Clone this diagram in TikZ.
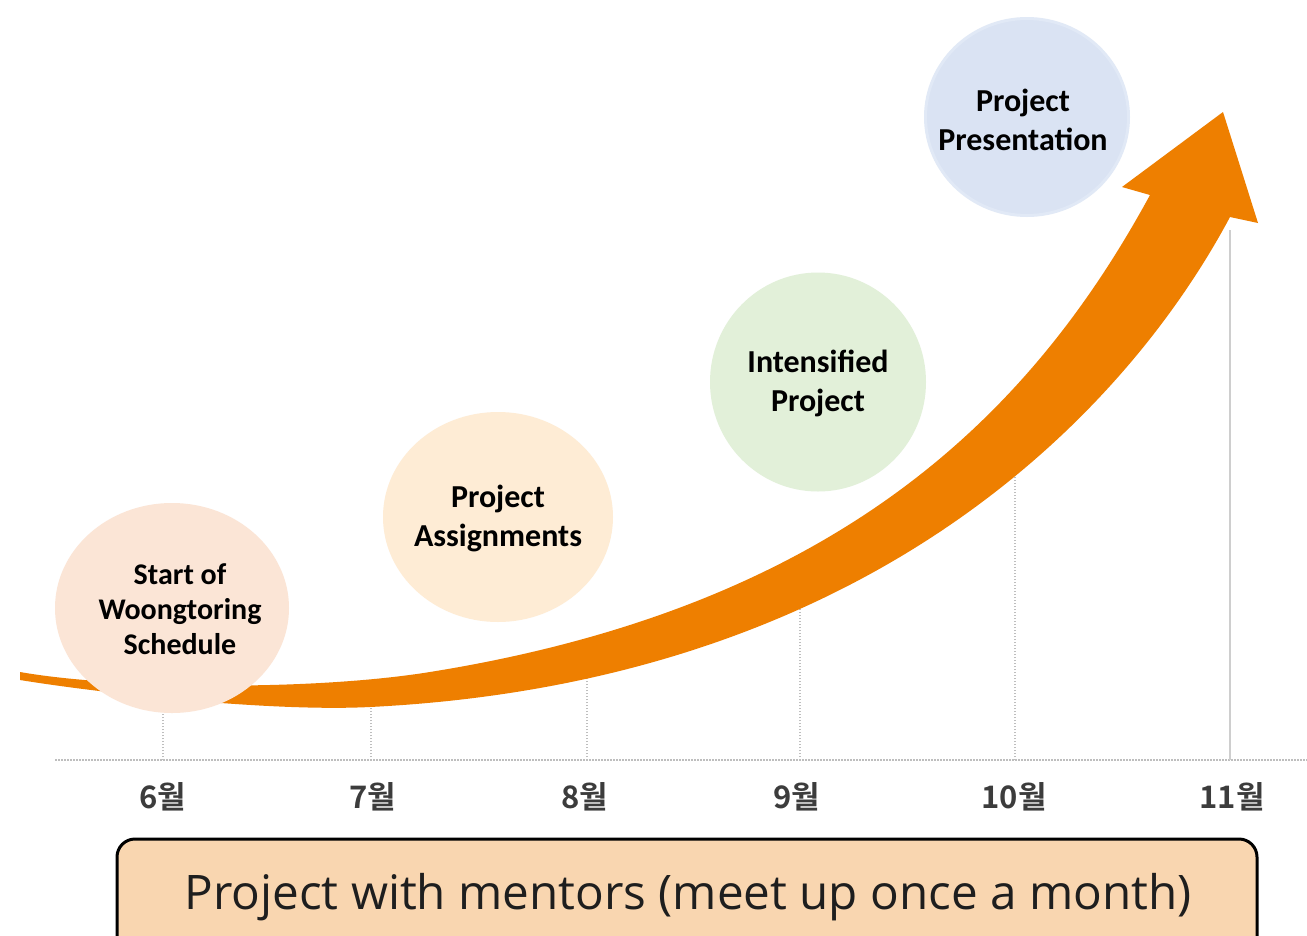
\documentclass[tikz,border=0pt]{standalone}
\usepackage{fontspec}
\setmainfont{Carlito}
\newfontfamily\krfont{Noto Sans CJK KR Bold}
\newfontfamily\boxfont{Open Sans}
\usetikzlibrary{shapes.geometric}
\definecolor{arroworange}{RGB}{238,127,0}
\definecolor{cpink}{RGB}{251,229,214}
\definecolor{cpeach}{RGB}{254,236,213}
\definecolor{cgreen}{RGB}{226,240,217}
\definecolor{cblue}{RGB}{218,227,243}
\definecolor{cblueedge}{RGB}{225,233,246}
\definecolor{monthgray}{RGB}{60,60,60}
\definecolor{axisgray}{RGB}{190,190,190}
\definecolor{boxfill}{RGB}{249,214,176}
\tikzset{
  bubble/.style={ellipse, inner sep=0pt},
  bubbletext/.style={align=center, font=\bfseries\fontsize{32}{39}\selectfont, text=black, inner sep=0pt},
  monthlabel/.style={font=\krfont\fontsize{31}{34}\selectfont, text=monthgray, inner sep=0pt},
  guide/.style={draw=axisgray, line width=1.4pt, dash pattern=on 1.5pt off 1.5pt},
}
\begin{document}
\begin{tikzpicture}[x=1pt,y=-1pt]
\clip (0,0) rectangle (1307,935);
\fill[white] (0,0) rectangle (1307,935);
% axis
\coordinate (axL) at (55,760);
\coordinate (axR) at (1307,760);
\draw[guide] (axL) -- (axR);
\foreach \x/\t in {163/700,371/700,587/670,800/600,1015/470}{
  \draw[guide] (\x,760) -- (\x,\t);
}
\draw[draw=axisgray!75, line width=1.6pt] (1230,760) -- (1230,230);
% arrow
\fill[arroworange]
  (20,672) .. controls (110,688) and (305,692) .. (430,672)
  .. controls (841,606) and (1032,412) .. (1150,195)
  -- (1122,187) -- (1223,112) -- (1258,223) -- (1230,217)
  .. controls (1127,410) and (873,682) .. (370,707)
  .. controls (270,712) and (100,693) .. (20,680)
  -- cycle;
% bubbles
\node[bubble, fill=cpink, minimum width=234pt, minimum height=210pt] (b1) at (172,608) {};
\node[bubbletext, font=\bfseries\fontsize{30}{35}\selectfont] (t1) at (180,609) {Start of\\Woongtoring\\Schedule};
\node[bubble, fill=cpeach, minimum width=230pt, minimum height=210pt] (b2) at (498,517) {};
\node[bubbletext] (t2) at (498,518) {Project\\Assignments};
\node[bubble, fill=cgreen, minimum width=216pt, minimum height=219pt] (b3) at (818,382) {};
\node[bubbletext] (t3) at (818,383) {Intensified\\Project};
\node[bubble, fill=cblue, draw=cblueedge, line width=3pt, minimum width=203pt, minimum height=197pt] (b4) at (1027,117) {};
\node[bubbletext] (t4) at (1023,120) {Project\\Presentation};
% months
\node[monthlabel] (m6) at (163,797) {6월};
\node[monthlabel] (m7) at (373,797) {7월};
\node[monthlabel] (m8) at (585,797) {8월};
\node[monthlabel] (m9) at (797,797) {9월};
\node[monthlabel] (m10) at (1014,797) {10월};
\node[monthlabel] (m11) at (1232,797) {11월};
% bottom box
\draw[fill=boxfill, draw=black, line width=3pt, rounded corners=18pt] (117,839) rectangle (1257,980);
\node[font=\boxfont\fontsize{47.6}{52}\selectfont, text={rgb,255:red,30;green,30;blue,30}, inner sep=0pt] (caption) at (688,897) {Project with mentors (meet up once a month)};
\end{tikzpicture}
\end{document}
